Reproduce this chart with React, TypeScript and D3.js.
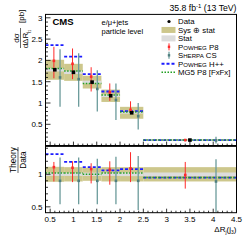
import React from "react";
import * as d3 from "d3";

// ---- data ----
const binEdges = [0.4, 0.8, 1.2, 1.6, 2.0, 2.5, 4.5];
const dataVals = [1.78, 1.72, 1.49, 1.17, 0.77, 0.13];
const sysErr = [0.235, 0.2, 0.15, 0.145, 0.14, 0.015];
const statErr = [0.04, 0.04, 0.035, 0.03, 0.02, 0.004];
const powhegP8 = [1.99, 1.92, 1.62, 1.25, 0.84, 0.13];
const powhegP8Lo = [1.58, 1.56, 1.27, 1.05, 0.74, 0.1];
const powhegP8Hi = [2.32, 2.28, 1.84, 1.46, 1.04, 0.155];
const sherpa = [1.6, 1.56, 1.33, 1.07, 0.69, 0.12];
const sherpaLo = [0.91, 0.91, 0.8, 0.6, 0.38, 0.05];
const sherpaHi = [2.26, 2.17, 1.77, 1.46, 1.0, 0.21];
const powhegHpp = [2.36, 2.09, 1.68, 1.27, 0.81, 0.13];
const mg5 = [1.81, 1.75, 1.46, 1.19, 0.79, 0.13];

const ratioP8 = [1.11, 1.1, 1.08, 1.07, 1.09, 0.99];
const ratioP8Lo = [0.89, 0.88, 0.86, 0.84, 0.88, 0.78];
const ratioP8Hi = [1.19, 1.2, 1.17, 1.2, 1.34, 1.19];
const ratioSherpa = [0.9, 0.9, 0.9, 0.9, 0.9, 0.89];
const ratioSherpaLo = [0.54, 0.54, 0.54, 0.54, 0.45, 0.42];
const ratioSherpaHi = [1.26, 1.26, 1.24, 1.27, 1.28, 1.23];
const ratioHpp = [1.31, 1.19, 1.11, 1.06, 1.08, 0.95];
const ratioMg5 = [1.02, 1.02, 1.0, 1.02, 1.02, 0.95];
const ratioSys = [0.115, 0.11, 0.1, 0.11, 0.11, 0.11];
const ratioStat = [0.025, 0.025, 0.025, 0.025, 0.028, 0.028];

const xTickVals = [0.5, 1, 1.5, 2, 2.5, 3, 3.5, 4, 4.5];
const yTopTickVals = [0.5, 1, 1.5, 2, 2.5, 3];
const yRatTickVals = [0.5, 1];

const OLIVE = "#cdc78c";
const STAT = "#dcdcdc";
const RED = "#ff2a2a";
const SHERPA = "#6b9b9b";
const BLUE = "#1c1cff";
const GREEN = "#22a022";
const FONT = "Liberation Sans, Arial, Helvetica, sans-serif";

export default function App() {
  const xs = d3.scaleLinear().domain([0.4, 4.5]).range([45.5, 236.5]);
  const yTop = d3.scaleLinear().domain([0, 3.08]).range([145.6, 14.4]);
  const yRat = d3.scaleLinear().domain([0.41, 1.435]).range([212.7, 146]);

  const bins = dataVals.map((v, i) => {
    const x0 = binEdges[i];
    const x1 = binEdges[i + 1];
    const w = x1 - x0;
    return {
      i,
      x0,
      x1,
      c: (x0 + x1) / 2,
      xr: x0 + 0.45 * w,
      xsh: x0 + 0.78 * w,
    };
  });

  const minorX = d3.range(0.5, 4.5001, 0.1);
  const minorYTop = d3.range(0.1, 3.0001, 0.1);
  const minorYRat = d3.range(0.5, 1.4001, 0.1);

  const left = xs.range()[0];
  const right = xs.range()[1];

  const smallCaps = (first: string, rest: string, tail: string) => (
    <>
      {first}
      <tspan fontSize="0.78em">{rest}</tspan>
      {tail}
    </>
  );

  const legendItems = [
    { key: "data", label: <>Data</> },
    { key: "sys", label: <>Sys ⊕ stat</> },
    { key: "stat", label: <>Stat</> },
    { key: "p8", label: smallCaps("P", "OWHEG", " P8") },
    { key: "sh", label: smallCaps("S", "HERPA", " CS") },
    { key: "hpp", label: smallCaps("P", "OWHEG", " H++") },
    { key: "mg5", label: <>MG5 P8 [FxFx]</> },
  ];
  const legX = 169;
  const legTextX = 178;
  const legY0 = 21.5;
  const legDy = 8.45;

  return (
    <svg
      width={249}
      height={242}
      style={{ position: "absolute", left: 0, top: 0, background: "#fff" }}
      fontFamily={FONT}
    >
      {/* ---------- TOP PANEL ---------- */}
      {bins.map((b) => (
        <g key={"band" + b.i}>
          <rect
            x={xs(b.x0)}
            width={xs(b.x1) - xs(b.x0)}
            y={yTop(dataVals[b.i] + sysErr[b.i])}
            height={yTop(dataVals[b.i] - sysErr[b.i]) - yTop(dataVals[b.i] + sysErr[b.i])}
            fill={OLIVE}
          />
          <rect
            x={xs(b.x0)}
            width={xs(b.x1) - xs(b.x0)}
            y={yTop(dataVals[b.i] + statErr[b.i])}
            height={Math.max(0.8, yTop(dataVals[b.i] - statErr[b.i]) - yTop(dataVals[b.i] + statErr[b.i]))}
            fill={STAT}
          />
        </g>
      ))}
      {bins.map((b) => (
        <g key={"th" + b.i}>
          <line
            x1={xs(b.x0)}
            x2={xs(b.x1)}
            y1={yTop(powhegHpp[b.i])}
            y2={yTop(powhegHpp[b.i])}
            stroke={BLUE}
            strokeWidth={1.8}
            strokeDasharray="3,2"
          />
          <line
            x1={xs(b.x0)}
            x2={xs(b.x1)}
            y1={yTop(mg5[b.i])}
            y2={yTop(mg5[b.i])}
            stroke={GREEN}
            strokeWidth={1.5}
            strokeDasharray="1.5,1.5"
          />
          <line
            x1={xs(b.xr)}
            x2={xs(b.xr)}
            y1={yTop(powhegP8Lo[b.i])}
            y2={yTop(powhegP8Hi[b.i])}
            stroke={RED}
            strokeWidth={1}
          />
          <rect
            x={xs(b.xr) - 1.3}
            y={yTop(powhegP8[b.i]) - 1.3}
            width={2.6}
            height={2.6}
            fill={RED}
          />
          <line
            x1={xs(b.xsh)}
            x2={xs(b.xsh)}
            y1={yTop(sherpaLo[b.i])}
            y2={yTop(sherpaHi[b.i])}
            stroke={SHERPA}
            strokeWidth={1.3}
          />
          <rect
            x={xs(b.xsh) - 1.3}
            y={yTop(sherpa[b.i]) - 1.3}
            width={2.6}
            height={2.6}
            fill="#4f7f7f"
          />
          <rect
            x={xs(b.c) - 1.8}
            y={yTop(dataVals[b.i]) - 1.8}
            width={3.6}
            height={3.6}
            fill="#000"
          />
        </g>
      ))}
      {/* top axes */}
      {minorYTop.map((v, k) => {
        const major = Math.abs(v * 2 - Math.round(v * 2)) < 1e-6;
        return (
          <line
            key={"ytm" + k}
            x1={left}
            x2={left + (major ? 5 : 2.5)}
            y1={yTop(v)}
            y2={yTop(v)}
            stroke="#000"
            strokeWidth={0.8}
          />
        );
      })}
      {yTopTickVals.map((v) => (
        <text key={"ytl" + v} x={42.5} y={yTop(v) + 3} fontSize={8} textAnchor="end">
          {String(v)}
        </text>
      ))}
      {minorX.map((v, k) => {
        const major = Math.abs(v * 2 - Math.round(v * 2)) < 1e-6;
        return (
          <g key={"xtm" + k}>
            <line
              x1={xs(v)}
              x2={xs(v)}
              y1={yTop(0)}
              y2={yTop(0) - (major ? 4 : 2)}
              stroke="#000"
              strokeWidth={0.8}
            />
            <line
              x1={xs(v)}
              x2={xs(v)}
              y1={yRat.range()[0]}
              y2={yRat.range()[0] - (major ? 4 : 2)}
              stroke="#000"
              strokeWidth={0.8}
            />
          </g>
        );
      })}
      <rect
        x={left}
        y={yTop.range()[1]}
        width={right - left}
        height={yTop.range()[0] - yTop.range()[1]}
        fill="none"
        stroke="#000"
        strokeWidth={1}
      />

      {/* ---------- RATIO PANEL ---------- */}
      {bins.map((b) => (
        <g key={"rband" + b.i}>
          <rect
            x={xs(b.x0)}
            width={xs(b.x1) - xs(b.x0)}
            y={yRat(1 + ratioSys[b.i])}
            height={yRat(1 - ratioSys[b.i]) - yRat(1 + ratioSys[b.i])}
            fill={OLIVE}
          />
          <rect
            x={xs(b.x0)}
            width={xs(b.x1) - xs(b.x0)}
            y={yRat(1 + ratioStat[b.i])}
            height={yRat(1 - ratioStat[b.i]) - yRat(1 + ratioStat[b.i])}
            fill={STAT}
          />
        </g>
      ))}
      {bins.map((b) => (
        <g key={"rth" + b.i}>
          <line
            x1={xs(b.x0)}
            x2={xs(b.x1)}
            y1={yRat(ratioHpp[b.i])}
            y2={yRat(ratioHpp[b.i])}
            stroke={BLUE}
            strokeWidth={1.8}
            strokeDasharray="3,2"
          />
          <line
            x1={xs(b.x0)}
            x2={xs(b.x1)}
            y1={yRat(ratioMg5[b.i])}
            y2={yRat(ratioMg5[b.i])}
            stroke={GREEN}
            strokeWidth={1.5}
            strokeDasharray="1.5,1.5"
          />
          <line
            x1={xs(b.xr)}
            x2={xs(b.xr)}
            y1={yRat(ratioP8Lo[b.i])}
            y2={yRat(ratioP8Hi[b.i])}
            stroke={RED}
            strokeWidth={1}
          />
          <rect
            x={xs(b.xr) - 1.3}
            y={yRat(ratioP8[b.i]) - 1.3}
            width={2.6}
            height={2.6}
            fill={RED}
          />
          <line
            x1={xs(b.xsh)}
            x2={xs(b.xsh)}
            y1={yRat(ratioSherpaLo[b.i])}
            y2={yRat(ratioSherpaHi[b.i])}
            stroke={SHERPA}
            strokeWidth={1.3}
          />
          <rect
            x={xs(b.xsh) - 1.3}
            y={yRat(ratioSherpa[b.i]) - 1.3}
            width={2.6}
            height={2.6}
            fill="#4f7f7f"
          />
        </g>
      ))}
      {minorYRat.map((v, k) => {
        const major = Math.abs(v * 2 - Math.round(v * 2)) < 1e-6;
        return (
          <line
            key={"yrm" + k}
            x1={left}
            x2={left + (major ? 5 : 2.5)}
            y1={yRat(v)}
            y2={yRat(v)}
            stroke="#000"
            strokeWidth={0.8}
          />
        );
      })}
      {yRatTickVals.map((v) => (
        <text key={"yrl" + v} x={42.5} y={yRat(v) + 3} fontSize={8} textAnchor="end">
          {String(v)}
        </text>
      ))}
      {xTickVals.map((v) => (
        <text key={"xl" + v} x={xs(v)} y={222} fontSize={8} textAnchor="middle">
          {String(v)}
        </text>
      ))}
      <rect
        x={left}
        y={yRat.range()[1]}
        width={right - left}
        height={yRat.range()[0] - yRat.range()[1]}
        fill="none"
        stroke="#000"
        strokeWidth={1}
      />
      <line x1={left} x2={right} y1={146} y2={146} stroke="#000" strokeWidth={1.6} />

      {/* ---------- TEXT ---------- */}
      <text x={236.5} y={11} fontSize={8.7} textAnchor="end">
        35.8 fb<tspan dy={-3} fontSize={6}>-1</tspan>
        <tspan dy={3}> (13 TeV)</tspan>
      </text>
      <text x={52.5} y={25} fontSize={9.5} fontWeight="bold">
        CMS
      </text>
      <text x={101.5} y={25} fontSize={7.5}>
        e/μ+jets
      </text>
      <text x={101.5} y={33.5} fontSize={7.5}>
        particle level
      </text>

      {/* legend */}
      {legendItems.map((it, k) => {
        const y = legY0 + k * legDy;
        let sym: React.ReactNode = null;
        if (it.key === "data")
          sym = <circle cx={legX} cy={y} r={1.6} fill="#000" />;
        else if (it.key === "sys")
          sym = <rect x={legX - 7.5} y={y - 3} width={14} height={6} fill={OLIVE} />;
        else if (it.key === "stat")
          sym = <rect x={legX - 7.5} y={y - 3} width={14} height={6} fill={STAT} />;
        else if (it.key === "p8")
          sym = (
            <g>
              <line x1={legX} x2={legX} y1={y - 3.5} y2={y + 3.5} stroke={RED} strokeWidth={1} />
              <rect x={legX - 1.2} y={y - 1.2} width={2.4} height={2.4} fill={RED} />
            </g>
          );
        else if (it.key === "sh")
          sym = (
            <g>
              <line x1={legX} x2={legX} y1={y - 3.5} y2={y + 3.5} stroke={SHERPA} strokeWidth={1.2} />
              <rect x={legX - 1.2} y={y - 1.2} width={2.4} height={2.4} fill="#4f7f7f" />
            </g>
          );
        else if (it.key === "hpp")
          sym = (
            <line x1={legX - 7.5} x2={legX + 6.5} y1={y} y2={y} stroke={BLUE} strokeWidth={1.8} strokeDasharray="3,2" />
          );
        else if (it.key === "mg5")
          sym = (
            <line x1={legX - 7.5} x2={legX + 6.5} y1={y} y2={y} stroke={GREEN} strokeWidth={1.5} strokeDasharray="1.5,1.5" />
          );
        return (
          <g key={"leg" + it.key}>
            {sym}
            <text x={legTextX} y={y + 2.8} fontSize={7.8}>
              {it.label}
            </text>
          </g>
        );
      })}

      {/* y label top */}
      <g transform="translate(20.5,38) rotate(-90)">
        <text x={0} y={-1.8} fontSize={8} textAnchor="middle">
          dσ
        </text>
        <line x1={-10} x2={10} y1={0} y2={0} stroke="#000" strokeWidth={0.6} />
        <text x={-1} y={7.6} fontSize={8} textAnchor="middle">
          dΔR
          <tspan fontSize={4.8} dy={1.6}>j</tspan>
          <tspan fontSize={3.6} dy={0.8}>1</tspan>
        </text>
        <text x={15} y={3} fontSize={8}>
          [pb]
        </text>
      </g>
      {/* y label ratio */}
      <g transform="translate(18,160) rotate(-90)">
        <text x={0} y={-1.9} fontSize={8.2} textAnchor="middle">
          Theory
        </text>
        <line x1={-13} x2={13} y1={0} y2={0} stroke="#000" strokeWidth={0.6} />
        <text x={0} y={7.6} fontSize={8.2} textAnchor="middle">
          Data
        </text>
      </g>
      {/* x label */}
      <text x={236.5} y={232} fontSize={8} textAnchor="end">
        ΔR
        <tspan fontSize={5} dy={1.5}>j</tspan>
        <tspan dy={-1.5}>(j</tspan>
        <tspan fontSize={5} dy={1.5}>3</tspan>
        <tspan dy={-1.5}>)</tspan>
      </text>
    </svg>
  );
}
